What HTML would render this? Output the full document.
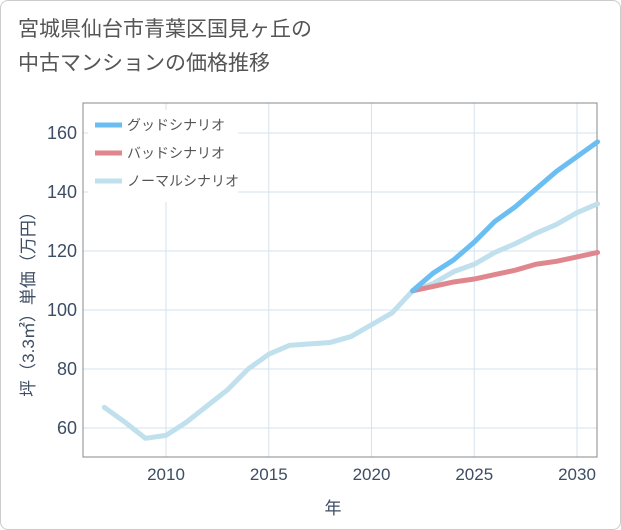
<!DOCTYPE html>
<html><head><meta charset="utf-8"><style>
body{margin:0;background:#fff;font-family:"Liberation Sans","Noto Sans CJK JP",sans-serif;}
#card{position:absolute;left:0;top:0;width:619px;height:528px;border:1px solid #ccc;border-radius:8px;background:#fff;}
#title{position:absolute;left:18px;top:13px;font-size:21px;line-height:34px;color:#555;}
</style></head><body>
<div id="card"></div>
<div id="title">宮城県仙台市青葉区国見ヶ丘の<br>中古マンションの価格推移</div>
<svg id="chart" width="621" height="530" style="position:absolute;left:0;top:0"></svg>
<script>
const years=[2007,2008,2009,2010,2011,2012,2013,2014,2015,2016,2017,2018,2019,2020,2021,2022,2023,2024,2025,2026,2027,2028,2029,2030,2031];
const normal=[67,62,56.5,57.5,62,67.5,73,80,85,88,88.5,89,91,95,99,106.5,109,113,115.5,119.5,122.5,126,129,133,136];
const futureYears=[2022,2023,2024,2025,2026,2027,2028,2029,2030,2031];
const good=[106.5,112.5,117,123,130,135,141,147,152,157];
const bad=[106.5,108,109.5,110.5,112,113.5,115.5,116.5,118,119.5];
const xTicks=[2010,2015,2020,2025,2030];
const yTicks=[60,80,100,120,140,160];
const L=83,R=597,T=103,B=457;
const x=v=>166+(v-2010)*20.55;
const y=v=>310-(v-100)*2.95;
const svg=document.getElementById('chart');
const NS='http://www.w3.org/2000/svg';
const TC='#3d4d63';
function mk(t,a,p){const e=document.createElementNS(NS,t);for(const k in a)e.setAttribute(k,a[k]);(p||svg).appendChild(e);return e;}
xTicks.forEach(v=>{const l=mk('line',{x1:x(v),x2:x(v),y1:T,y2:B,stroke:'#d5e3ec','stroke-width':1});


const t=mk('text',{x:x(v),y:B+23,'text-anchor':'middle','font-size':17,fill:TC});t.textContent=v;

});
yTicks.forEach(v=>{const l=mk('line',{x1:L,x2:R,y1:y(v),y2:y(v),stroke:'#d5e3ec','stroke-width':1});


const t=mk('text',{x:L-6,y:y(v)+6,'text-anchor':'end','font-size':18,fill:TC});t.textContent=v;

});
const fr=mk('rect',{x:L,y:T,width:R-L,height:B-T,fill:'none',stroke:'#888','stroke-width':1});


function line(xs,ys,c,n){const p=mk('polyline',{points:xs.map((v,i)=>x(v)+','+y(ys[i])).join(' '),fill:'none',stroke:c,'stroke-width':5,'stroke-linejoin':'round','stroke-linecap':'round'});

}
line(years,normal,'#bfe0ec','normal-line');
line(futureYears,bad,'#e0868e','bad-line');
line(futureYears,good,'#6bbef2','good-line');
const lb=mk('rect',{x:88,y:110,width:150,height:92,fill:'#fff'});


[['グッドシナリオ','#6bbef2'],['バッドシナリオ','#e0868e'],['ノーマルシナリオ','#bfe0ec']].forEach((d,i)=>{
const g=mk('g',{});


mk('line',{x1:95,x2:122,y1:125+i*28,y2:125+i*28,stroke:d[1],'stroke-width':5},g);
const t=mk('text',{x:127,y:130+i*28,'font-size':14,fill:'#555'},g);t.textContent=d[0];});
const xt=mk('text',{x:333,y:514,'text-anchor':'middle','font-size':17,fill:TC});xt.textContent='年';


const yt=mk('text',{x:0,y:0,'text-anchor':'middle','font-size':17,fill:TC,transform:'translate(34,300) rotate(-90)'});yt.textContent='坪（3.3㎡）単価（万円）';


</script>
</body></html>
